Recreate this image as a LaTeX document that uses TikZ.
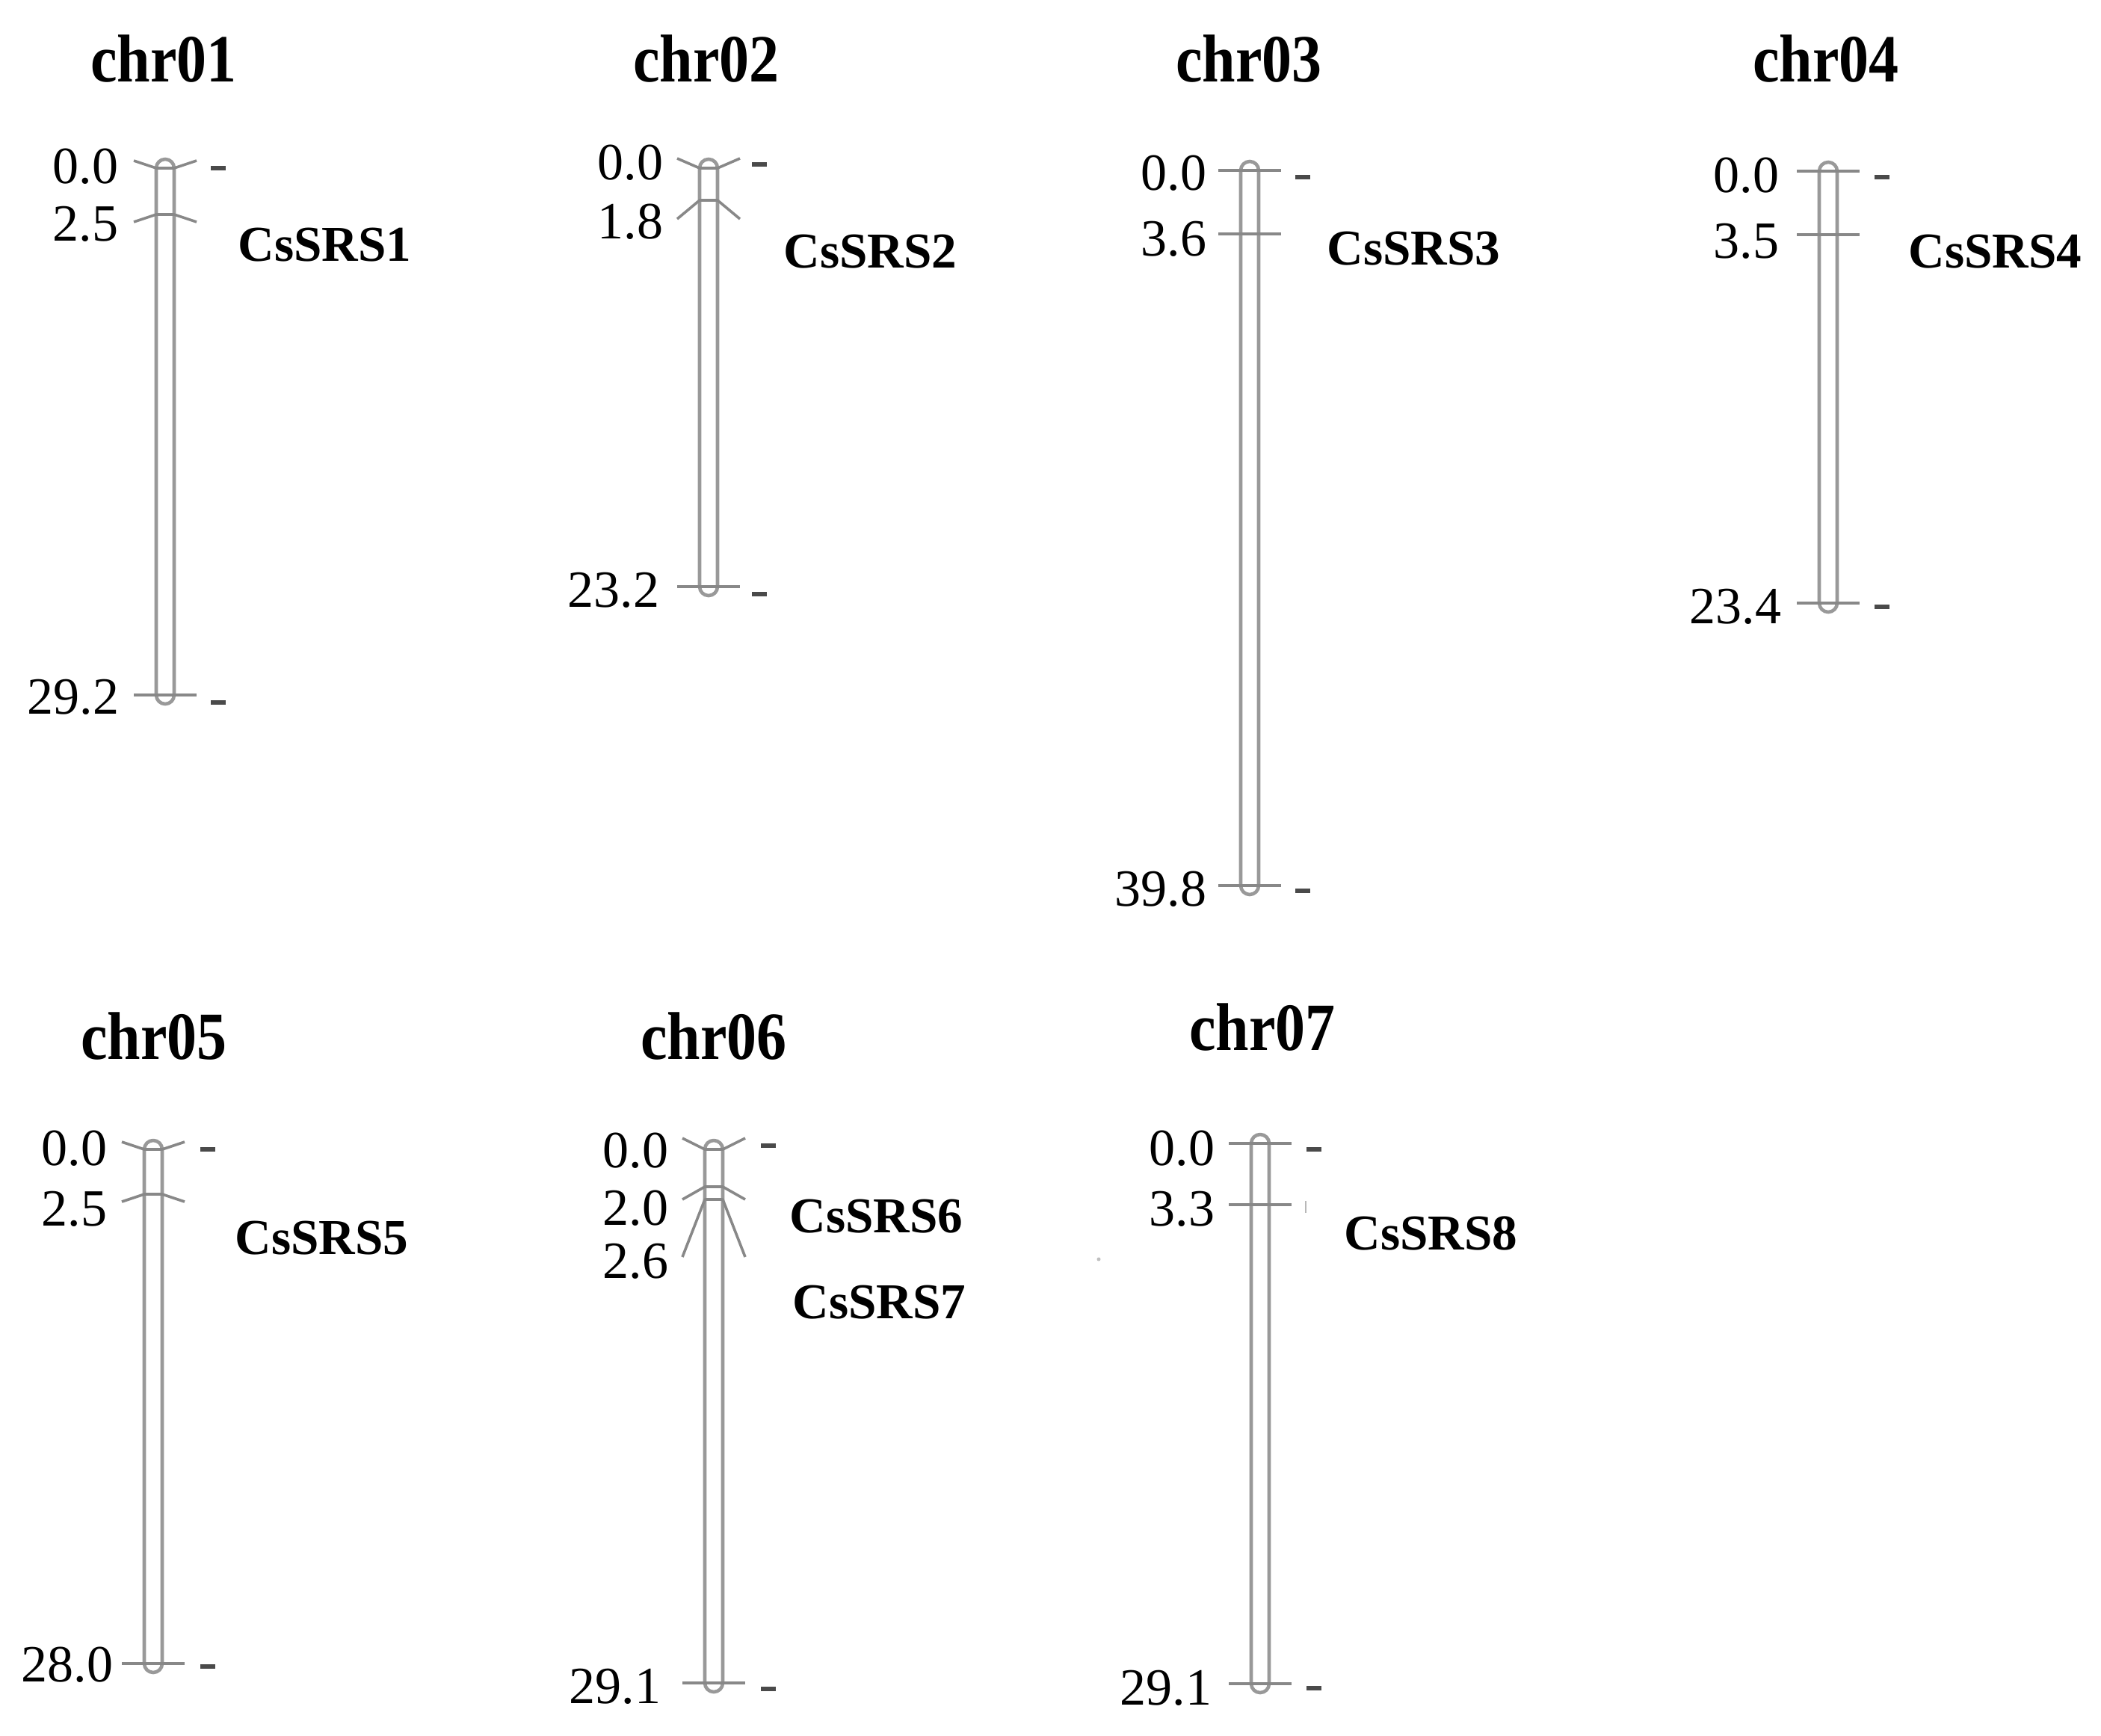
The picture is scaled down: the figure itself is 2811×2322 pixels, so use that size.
\documentclass[tikz,border=0pt]{standalone}
\usepackage{fontspec}
\setmainfont{Liberation Serif}
\definecolor{barcol}{HTML}{999999}
\definecolor{tickcol}{HTML}{888888}
\definecolor{dashcol}{HTML}{4A4A4A}
\tikzset{
  barline/.style={draw=barcol, line width=1.15pt, line join=round},
  tickline/.style={draw=tickcol, line width=0.9pt, line join=round},
  dashline/.style={draw=dashcol, line width=1.5pt},
  numlab/.style={anchor=east, inner sep=0pt, font=\fontsize{17.5}{20}\selectfont},
  genelab/.style={anchor=west, inner sep=0pt, font=\fontsize{16.8}{20}\selectfont\bfseries},
  titlelab/.style={inner sep=0pt, font=\fontsize{20}{24}\selectfont\bfseries},
}
% cx top bottom
\newcommand\chrbar[3]{%
  \draw[barline] (#1-12,-#2) -- (#1-12,-#3) arc[start angle=180,end angle=360,radius=12] -- (#1+12,-#2) arc[start angle=0,end angle=180,radius=12];}
% cx ybar yend
\newcommand\mkr[3]{%
  \draw[tickline] (#1-42,-#3) -- (#1-12,-#2) -- (#1+12,-#2) -- (#1+42,-#3);}
% x y
\newcommand\dsh[2]{%
  \draw[dashline] (#1-10,-#2) -- (#1+10,-#2);}
\newcommand\sy[1]{\scalebox{1}[1.13]{#1}}
\begin{document}
\begin{tikzpicture}[x=0.25pt,y=0.25pt]
\fill[white] (0,0) rectangle (2811,-2322);
\useasboundingbox (0,0) rectangle (2811,-2322);

% ---------- chr01
\node[titlelab] (t1) at (219,-79) {\sy{chr01}};
\chrbar{221}{225}{930}
\mkr{221}{225}{215}
\mkr{221}{287}{297}
\mkr{221}{930}{930}
\node[numlab] (c1a) at (159,-223) {0.0};
\node[numlab] (c1b) at (159,-300) {2.5};
\node[numlab] (c1c) at (160,-933) {29.2};
\dsh{292}{225}
\dsh{292}{940}
\node[genelab] (g1) at (318,-328) {CsSRS1};

% ---------- chr02
\node[titlelab] (t2) at (945,-79) {\sy{chr02}};
\chrbar{948}{225}{785}
\mkr{948}{225}{212}
\mkr{948}{268}{293}
\mkr{948}{785}{785}
\node[numlab] (c2a) at (888,-218) {0.0};
\node[numlab] (c2b) at (888,-297) {1.8};
\node[numlab] (c2c) at (883,-790) {23.2};
\dsh{1016}{220}
\dsh{1016}{795}
\node[genelab] (g2) at (1048,-337) {CsSRS2};

% ---------- chr03
\node[titlelab] (t3) at (1671,-79) {\sy{chr03}};
\chrbar{1672}{228}{1185}
\mkr{1672}{228}{228}
\mkr{1672}{313}{313}
\mkr{1672}{1185}{1185}
\node[numlab] (c3a) at (1615,-232) {0.0};
\node[numlab] (c3b) at (1615,-320) {3.6};
\node[numlab] (c3c) at (1615,-1190) {39.8};
\dsh{1743}{237}
\dsh{1743}{1192}
\node[genelab] (g3) at (1775,-333) {CsSRS3};

% ---------- chr04
\node[titlelab] (t4) at (2443,-79) {\sy{chr04}};
\chrbar{2446}{229}{807}
\mkr{2446}{229}{229}
\mkr{2446}{314}{314}
\mkr{2446}{807}{807}
\node[numlab] (c4a) at (2381,-235) {0.0};
\node[numlab] (c4b) at (2381,-323) {3.5};
\node[numlab] (c4c) at (2384,-812) {23.4};
\dsh{2518}{237}
\dsh{2518}{812}
\node[genelab] (g4) at (2553,-337) {CsSRS4};

% ---------- chr05
\node[titlelab] (t5) at (206,-1387) {\sy{chr05}};
\chrbar{205}{1538}{2226}
\mkr{205}{1538}{1528}
\mkr{205}{1598}{1608}
\mkr{205}{2226}{2226}
\node[numlab] (c5a) at (144,-1537) {0.0};
\node[numlab] (c5b) at (144,-1618) {2.5};
\node[numlab] (c5c) at (152,-2228) {28.0};
\dsh{278}{1538}
\dsh{278}{2230}
\node[genelab] (g5) at (314,-1657) {CsSRS5};

% ---------- chr06
\node[titlelab] (t6) at (955,-1387) {\sy{chr06}};
\chrbar{955}{1538}{2252}
\mkr{955}{1538}{1523}
\mkr{955}{1588}{1605}
\mkr{955}{1605}{1682}
\mkr{955}{2252}{2252}
\node[numlab] (c6a) at (895,-1540) {0.0};
\node[numlab] (c6b) at (895,-1617) {2.0};
\node[numlab] (c6c) at (895,-1688) {2.6};
\node[numlab] (c6d) at (885,-2257) {29.1};
\dsh{1028}{1533}
\dsh{1028}{2260}
\node[genelab] (g6) at (1056,-1628) {CsSRS6};
\node[genelab] (g7) at (1060,-1743) {CsSRS7};

% ---------- chr07
\node[titlelab] (t7) at (1689,-1375) {\sy{chr07}};
\chrbar{1686}{1530}{2253}
\mkr{1686}{1530}{1530}
\mkr{1686}{1612}{1612}
\mkr{1686}{2253}{2253}
\node[numlab] (c7a) at (1626,-1537) {0.0};
\node[numlab] (c7b) at (1626,-1618) {3.3};
\node[numlab] (c7c) at (1622,-2259) {29.1};
\dsh{1758}{1538}
\dsh{1758}{2259}
\draw[draw=tickcol!60, line width=0.6pt] (1747,-1607) -- (1747,-1623);
\node[genelab] (g8) at (1798,-1650) {CsSRS8};
\fill[black!25] (1470,-1685) circle[radius=2.5];
\end{tikzpicture}
\end{document}
